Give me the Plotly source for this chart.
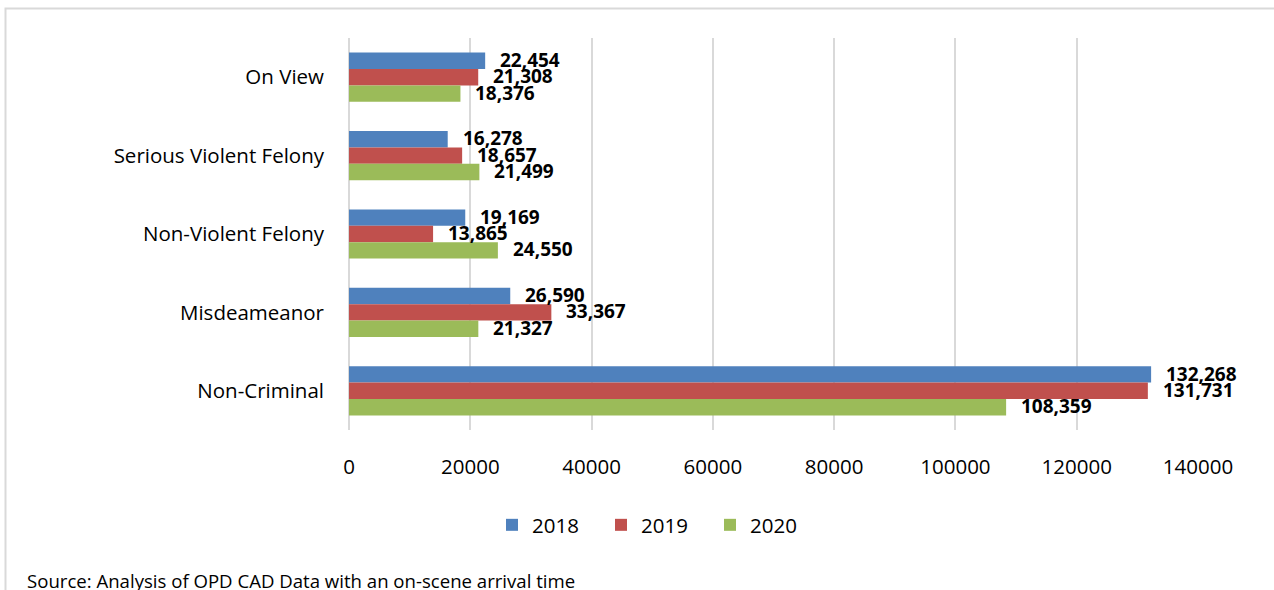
import plotly.graph_objects as go

# Call categories, listed top to bottom as shown on the chart
categories = ["On View", "Serious Violent Felony", "Non-Violent Felony",
              "Misdeameanor", "Non-Criminal"]
years = ["2018", "2019", "2020"]
calls_2018 = [22454, 16278, 19169, 26590, 132268]
calls_2019 = [21308, 18657, 13865, 33367, 131731]
calls_2020 = [18376, 21499, 24550, 21327, 108359]
x_ticks = [0, 20000, 40000, 60000, 80000, 100000, 120000, 140000]
source_note = "Source: Analysis of OPD CAD Data with an on-scene arrival time"

series = [calls_2018, calls_2019, calls_2020]
colors = ["#4F81BD", "#C0504D", "#9BBB59"]
FONT = "Open Sans"
W, H = 1274, 590
L, R, T, B = 349, 76, 38, 160

fig = go.Figure()
for name, vals, col in zip(years, series, colors):
    fig.add_trace(go.Bar(
        y=categories, x=vals, name=name, orientation="h",
        marker=dict(color=col, line=dict(width=0)),
    ))

# bold value labels just right of each bar end
bar_px = 16.3
shifts = [bar_px, 0, -bar_px]
for vals, ys in zip(series, shifts):
    for cat, v in zip(categories, vals):
        fig.add_annotation(
            x=v, y=cat, text=f"<b>{v:,}</b>", showarrow=False,
            xanchor="left", yanchor="middle", xshift=13, yshift=ys + 1,
            font=dict(family=FONT, size=19, color="black"),
        )

plot_w = W - L - R
plot_h = H - T - B


def px_x(p):
    return (p - L) / plot_w


def px_y(p):
    return (H - B - p) / plot_h


# chart frame
fig.add_shape(type="rect", xref="paper", yref="paper",
              x0=px_x(5.5), x1=px_x(1290), y0=px_y(8.5), y1=px_y(620),
              line=dict(color="#D9D9D9", width=2), fillcolor="rgba(0,0,0,0)",
              layer="below")

fig.add_annotation(
    text=source_note, xref="paper", yref="paper",
    x=px_x(25), y=px_y(595), xanchor="left", yanchor="bottom",
    showarrow=False, font=dict(family=FONT, size=18.6, color="black"),
)

fig.update_layout(
    width=W, height=H,
    margin=dict(l=L, r=R, t=T, b=B, pad=0),
    paper_bgcolor="white", plot_bgcolor="white",
    barmode="group", bargap=0.373, bargroupgap=0,
    font=dict(family=FONT, size=20.5, color="black"),
    xaxis=dict(
        range=[0, 140000], tickvals=x_ticks, ticktext=[str(t) for t in x_ticks],
        showgrid=True, gridcolor="#D9D9D9", gridwidth=2,
        zeroline=True, zerolinecolor="#D9D9D9", zerolinewidth=2,
        showline=False, ticks="", ticklabelstandoff=22,
        fixedrange=True,
    ),
    yaxis=dict(
        autorange="reversed", showgrid=False, zeroline=False, showline=False,
        ticks="", ticklabelstandoff=24, fixedrange=True,
    ),
    legend=dict(
        orientation="h", x=px_x(492), y=px_y(525), xanchor="left",
        yanchor="middle", font=dict(family=FONT, size=20.5, color="black"),
        entrywidth=64, bgcolor="rgba(0,0,0,0)",
    ),
    showlegend=True,
)

fig.write_html("out.html")
